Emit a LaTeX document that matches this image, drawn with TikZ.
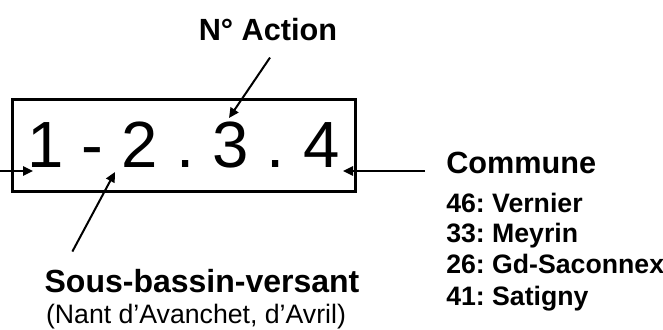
\documentclass[tikz,border=0pt]{standalone}
\usepackage{fontspec}
\setmainfont{Liberation Sans}
\usetikzlibrary{arrows.meta, positioning}
\frenchspacing
\tikzstyle{code} = [draw, line width=2.25pt, inner sep=0pt,
    minimum width=257.25pt, minimum height=69pt, font=\fontsize{49}{59}\selectfont]
\tikzstyle{heading} = [inner sep=0pt, anchor=base, font=\bfseries\fontsize{23}{28}\selectfont]
\tikzstyle{commune} = [inner sep=0pt, anchor=base west, font=\bfseries\fontsize{20}{24}\selectfont]
\tikzstyle{pointer} = [line width=1.5pt, -{Triangle[length=7.5pt,width=7pt]}]

\begin{document}
\begin{tikzpicture}[x=0.75pt, y=-0.75pt]
    \useasboundingbox (0,0) rectangle (663,329);
    \node[code, name=code] at (183.5,145) (code) {1 - 2 . 3 . 4};
    \node[heading, name=action] at (268,40) (action) {N° Action};
    \node[heading, name=sous, font=\bfseries\fontsize{24}{29}\selectfont] at (202,292) (sous) {Sous-bassin-versant};
    \node[heading, name=ruisseaux, font=\fontsize{20}{24}\selectfont] at (196,323) (ruisseaux) {(Nant d’Avanchet, d’Avril)};
    \node[heading, anchor=base west, name=communes] at (446,173) (communes) {Commune};
    \node[commune, name=vernier] at (446,212) (vernier) {46: Vernier};
    \node[commune, name=meyrin] at (446,242) (meyrin) {33: Meyrin};
    \node[commune, name=saconnex] at (446,273) (saconnex) {26: Gd-Saconnex};
    \node[commune, name=satigny] at (446,305) (satigny) {41: Satigny};

    % points inside the box
    \coordinate (left) at (-4,171);
    \coordinate (digitA) at (33,171);
    \coordinate (digitB) at (115,172);
    \coordinate (digitC) at (229,118);
    \coordinate (digitD) at (343,171);

    \draw[pointer] (left) -- (digitA);
    \draw[pointer] ([shift={(28,-17)}]sous.north west) -- (digitB);
    \draw[pointer] ([shift={(2,17)}]action.south) -- (digitC);
    \draw[pointer] ([shift={(-21,-2)}]communes.base west) -- (digitD);
\end{tikzpicture}
\end{document}
